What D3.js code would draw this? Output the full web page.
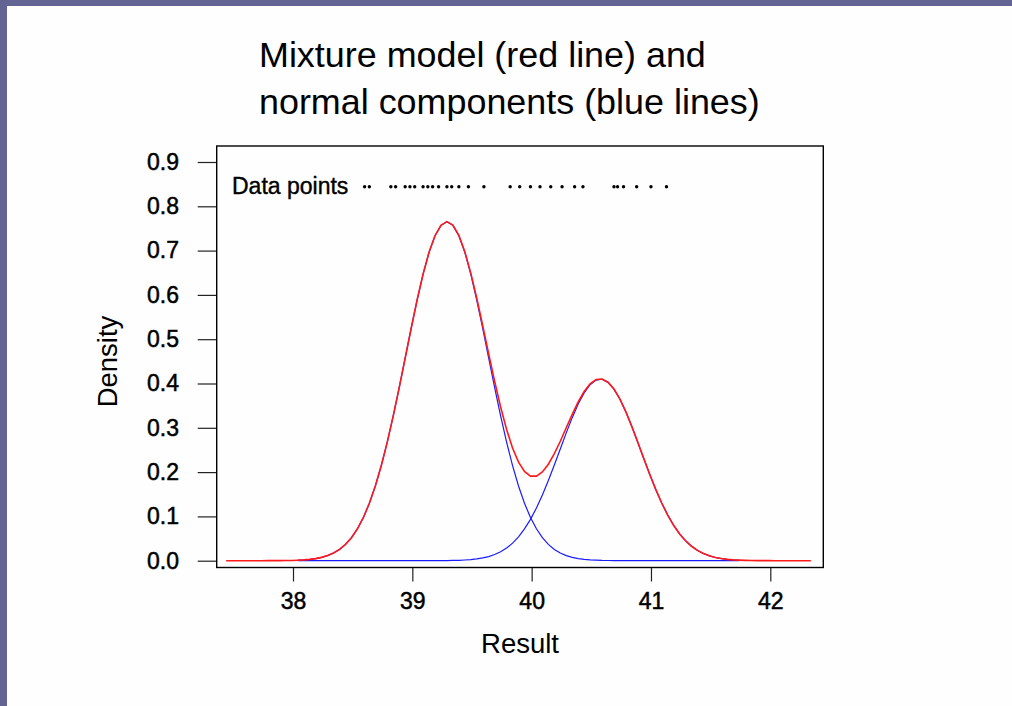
<!DOCTYPE html>
<html>
<head>
<meta charset="utf-8">
<script src="https://cdn.jsdelivr.net/npm/d3@7"></script>
<style>
  html, body { margin: 0; padding: 0; background: #fefefe; }
  svg { display: block; }
  text { font-family: Arial, "Liberation Sans", sans-serif; fill: #000; }
</style>
</head>
<body>
<svg id="chart" width="1012" height="706"></svg>
<script>
// Evaluation grid for the density curves (Result axis)
const resultGrid = [
  37.44, 37.49, 37.54, 37.59, 37.64, 37.69, 37.74, 37.79, 37.84, 37.89,
  37.94, 37.99, 38.04, 38.09, 38.14, 38.19, 38.24, 38.29, 38.34, 38.39,
  38.44, 38.49, 38.54, 38.59, 38.64, 38.69, 38.74, 38.79, 38.84, 38.89,
  38.94, 38.99, 39.04, 39.09, 39.14, 39.19, 39.24, 39.29, 39.34, 39.39,
  39.44, 39.49, 39.54, 39.59, 39.64, 39.69, 39.74, 39.79, 39.84, 39.89,
  39.94, 39.99, 40.04, 40.09, 40.14, 40.19, 40.24, 40.29, 40.34, 40.39,
  40.44, 40.49, 40.54, 40.59, 40.64, 40.69, 40.74, 40.79, 40.84, 40.89,
  40.94, 40.99, 41.04, 41.09, 41.14, 41.19, 41.24, 41.29, 41.34, 41.39,
  41.44, 41.49, 41.54, 41.59, 41.64, 41.69, 41.74, 41.79, 41.84, 41.89,
  41.94, 41.99, 42.04, 42.09, 42.14, 42.19, 42.24, 42.29, 42.34
];

// Mixture density (red line)
const mixtureDensity = [
  0, 0, 0, 0, 0, 0, 0, .0001, .0001, .0002,
  .0004, .0006, .0011, .0018, .0030, .0047, .0075, .0115, .0173, .0255,
  .0368, .0520, .0720, .0976, .1297, .1686, .2147, .2677, .3268, .3906,
  .4573, .5242, .5884, .6467, .6961, .7336, .7572, .7653, .7576, .7344,
  .6976, .6492, .5924, .5304, .4666, .4045, .3469, .2962, .2543, .2225,
  .2014, .1909, .1909, .2002, .2177, .2415, .2696, .3000, .3304, .3583,
  .3819, .3992, .4089, .4102, .4030, .3874, .3646, .3358, .3026, .2669,
  .2304, .1947, .1609, .1302, .1031, .0799, .0605, .0449, .0326, .0232,
  .0161, .0110, .0073, .0048, .0030, .0019, .0012, .0007, .0004, .0002,
  .0001, .0001, 0, 0, 0, 0, 0, 0, 0
];

// First normal component (blue line), null where not drawn
const componentLow = [
  null, null, null, null, null, null, null, null, null, null,
  null, null, .0011, .0018, .0030, .0047, .0075, .0115, .0173, .0255,
  .0368, .0520, .0720, .0976, .1297, .1686, .2147, .2677, .3268, .3906,
  .4573, .5242, .5884, .6467, .6960, .7335, .7570, .7650, .7570, .7335,
  .6960, .6467, .5884, .5242, .4573, .3906, .3268, .2677, .2147, .1686,
  .1297, .0976, .0720, .0520, .0368, .0255, .0173, .0115, .0075, .0047,
  .0030, .0018, .0011, .0006, .0004, .0002, .0001, .0001, 0, 0,
  0, 0, 0, 0, 0, 0, 0, 0, 0, 0,
  0, 0, 0, 0, 0, 0, 0, null, null, null,
  null, null, null, null, null, null, null, null, null
];

// Second normal component (blue line), null where not drawn
const componentHigh = [
  null, null, null, null, null, null, null, null, null, null,
  null, null, 0, 0, 0, 0, 0, 0, 0, 0,
  0, 0, 0, 0, 0, 0, 0, 0, 0, 0,
  0, 0, 0, 0, .0001, .0001, .0002, .0003, .0006, .0009,
  .0016, .0025, .0040, .0062, .0093, .0139, .0201, .0285, .0396, .0539,
  .0717, .0933, .1189, .1482, .1809, .2160, .2523, .2885, .3229, .3536,
  .3789, .3974, .4078, .4096, .4026, .3872, .3645, .3357, .3026, .2669,
  .2304, .1947, .1609, .1302, .1031, .0799, .0605, .0449, .0326, .0232,
  .0161, .0110, .0073, .0048, .0030, .0019, .0012, null, null, null,
  null, null, null, null, null, null, null, null, null
];

// Observed results shown as a strip above the curves
const dataPoints = [
  38.60, 38.64,
  38.82, 38.86, 38.94, 38.98, 39.02, 39.09, 39.13, 39.17, 39.22,
  39.29, 39.33, 39.39, 39.47, 39.60,
  39.82, 39.90, 39.99, 40.07, 40.16, 40.255, 40.36, 40.43,
  40.69, 40.72, 40.77, 40.88, 41.00, 41.13
];
const dataPointsLevel = 0.844;

const xTicks = [38, 39, 40, 41, 42];
const yTicks = [0.0, 0.1, 0.2, 0.3, 0.4, 0.5, 0.6, 0.7, 0.8, 0.9];
const titleLines = ["Mixture model (red line) and", "normal components (blue lines)"];

// ---- layout ----
const W = 1012, H = 706;
const box = { left: 216.7, right: 823.3, top: 146, bottom: 567.5 };

const svg = d3.select("#chart");

svg.append("rect").attr("width", W).attr("height", H).attr("fill", "#fefefe");
// slide frame strips
svg.append("rect").attr("x", 0).attr("y", 0).attr("width", W).attr("height", 6).attr("fill", "#636394");
svg.append("rect").attr("x", 0).attr("y", 0).attr("width", 7).attr("height", H).attr("fill", "#636394");

// title
svg.append("g").selectAll("text").data(titleLines).join("text")
  .attr("x", 259)
  .attr("y", (d, i) => 67 + i * 46.5)
  .attr("font-size", 35.9)
  .text(d => d);

const x = d3.scaleLinear().domain([38, 42]).range([293, 770.3]);
const y = d3.scaleLinear().domain([0, 0.9]).range([560.7, 162]);

// axes
const yAxis = svg.append("g")
  .attr("transform", `translate(${box.left},0)`)
  .call(d3.axisLeft(y).tickValues(yTicks).tickSize(19).tickPadding(18.7).tickFormat(d3.format(".1f")));
const xAxis = svg.append("g")
  .attr("transform", `translate(0,${box.bottom})`)
  .call(d3.axisBottom(x).tickValues(xTicks).tickSize(14).tickPadding(11.5).tickFormat(d3.format("d")));
[yAxis, xAxis].forEach(g => {
  g.select(".domain").remove();
  g.selectAll(".tick line").attr("stroke", "#222").attr("stroke-width", 1.2);
  g.selectAll(".tick text")
    .attr("font-size", 23)
    .attr("font-family", "Arial, 'Liberation Sans', sans-serif")
    .attr("fill", "#000")
    .attr("stroke", "#000")
    .attr("stroke-width", 0.5);
});

// plot frame
svg.append("rect")
  .attr("x", box.left).attr("y", box.top)
  .attr("width", box.right - box.left).attr("height", box.bottom - box.top)
  .attr("fill", "none").attr("stroke", "#000").attr("stroke-width", 1.4);

// curves
const line = d3.line()
  .defined(d => d[1] !== null)
  .x(d => x(d[0]))
  .y(d => y(d[1]));

const pairs = arr => resultGrid.map((g, i) => [g, arr[i]]);

[componentLow, componentHigh].forEach(comp => {
  svg.append("path")
    .datum(pairs(comp))
    .attr("d", line)
    .attr("fill", "none")
    .attr("stroke", "#1a1aff")
    .attr("stroke-width", 1.2);
});

svg.append("path")
  .datum(pairs(mixtureDensity))
  .attr("d", line)
  .attr("fill", "none")
  .attr("stroke", "#ff1a1a")
  .attr("stroke-width", 1.6);

// data point strip
svg.append("text")
  .attr("x", 232)
  .attr("y", y(dataPointsLevel) + 7.5)
  .attr("font-size", 23)
  .attr("stroke", "#000")
  .attr("stroke-width", 0.4)
  .text("Data points");

svg.append("g").selectAll("circle").data(dataPoints).join("circle")
  .attr("cx", d => x(d))
  .attr("cy", y(dataPointsLevel))
  .attr("r", 1.7)
  .attr("fill", "#000");

// axis titles
svg.append("text")
  .attr("x", (box.left + box.right) / 2)
  .attr("y", 653)
  .attr("text-anchor", "middle")
  .attr("font-size", 27.5)
  .text("Result");

svg.append("text")
  .attr("transform", "translate(117,361.5) rotate(-90)")
  .attr("text-anchor", "middle")
  .attr("font-size", 27.5)
  .text("Density");
</script>
</body>
</html>
